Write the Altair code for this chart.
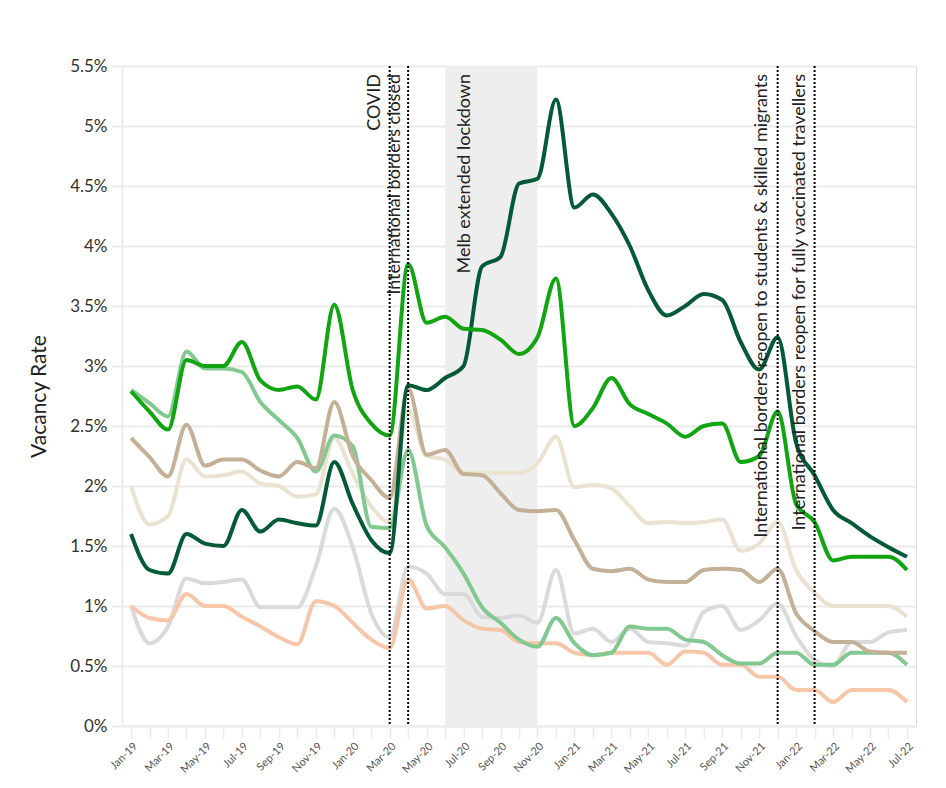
import altair as alt
import pandas as pd

years = ["19", "20", "21", "22"]
month_names = ["Jan", "Feb", "Mar", "Apr", "May", "Jun", "Jul", "Aug", "Sep", "Oct", "Nov", "Dec"]
months = [f"{m}-{y}" for y in years for m in month_names][:43]

series_names = ["Sydney", "Melbourne", "Brisbane", "Perth", "Adelaide", "Canberra", "National"]
series_colors = ["#11a511", "#035a36", "#c4b096", "#82c991", "#f7c6a8", "#dadada", "#ebe3d1"]

sydney = [2.79, 2.62, 2.47, 3.05, 3.0, 3.0, 3.2, 2.88, 2.8, 2.83, 2.72, 3.51, 2.8, 2.52, 2.42,
          3.85, 3.36, 3.41, 3.31, 3.3, 3.22, 3.1, 3.24, 3.73, 2.5, 2.65, 2.9, 2.68, 2.6, 2.52,
          2.41, 2.5, 2.52, 2.2, 2.25, 2.62, 1.85, 1.7, 1.38, 1.41, 1.41, 1.41, 1.3]
melbourne = [1.6, 1.3, 1.27, 1.6, 1.52, 1.5, 1.8, 1.62, 1.72, 1.69, 1.67, 2.2, 1.85, 1.55, 1.44,
             2.84, 2.8, 2.9, 3.0, 3.83, 3.91, 4.52, 4.56, 5.22, 4.32, 4.43, 4.27, 4.0, 3.63, 3.42,
             3.5, 3.6, 3.55, 3.2, 2.97, 3.24, 2.36, 2.09, 1.8, 1.69, 1.58, 1.49, 1.41]
brisbane = [2.4, 2.24, 2.08, 2.51, 2.17, 2.22, 2.22, 2.13, 2.08, 2.2, 2.15, 2.7, 2.25, 2.05, 1.9,
            2.81, 2.26, 2.3, 2.1, 2.09, 1.94, 1.8, 1.79, 1.8, 1.55, 1.31, 1.29, 1.31, 1.22, 1.2,
            1.2, 1.3, 1.31, 1.3, 1.2, 1.31, 0.94, 0.79, 0.7, 0.7, 0.62, 0.61, 0.61]
perth = [2.8, 2.69, 2.58, 3.12, 2.98, 2.98, 2.95, 2.7, 2.55, 2.4, 2.12, 2.42, 2.33, 1.66, 1.65,
         2.3, 1.67, 1.49, 1.27, 0.99, 0.86, 0.72, 0.66, 0.9, 0.69, 0.59, 0.61, 0.83, 0.81, 0.81,
         0.72, 0.7, 0.59, 0.52, 0.52, 0.61, 0.61, 0.51, 0.51, 0.61, 0.61, 0.61, 0.51]
adelaide = [1.0, 0.9, 0.88, 1.1, 1.0, 1.0, 0.91, 0.83, 0.74, 0.68, 1.04, 1.0, 0.86, 0.72, 0.65,
            1.22, 0.98, 1.0, 0.88, 0.81, 0.8, 0.7, 0.69, 0.69, 0.61, 0.59, 0.61, 0.61, 0.61, 0.51,
            0.62, 0.61, 0.51, 0.51, 0.41, 0.41, 0.3, 0.3, 0.2, 0.3, 0.3, 0.3, 0.2]
canberra = [1.0, 0.69, 0.83, 1.23, 1.19, 1.2, 1.22, 0.99, 0.99, 0.99, 1.33, 1.81, 1.49, 0.94, 0.74,
            1.33, 1.27, 1.1, 1.1, 0.91, 0.9, 0.92, 0.86, 1.3, 0.77, 0.81, 0.7, 0.81, 0.7, 0.69,
            0.67, 0.95, 1.0, 0.8, 0.88, 1.02, 0.75, 0.55, 0.5, 0.7, 0.7, 0.78, 0.8]
national = [2.0, 1.68, 1.75, 2.22, 2.08, 2.09, 2.12, 2.02, 2.0, 1.91, 1.93, 2.4, 2.1, 1.83, 1.7,
            2.63, 2.25, 2.22, 2.11, 2.11, 2.11, 2.11, 2.19, 2.41, 1.99, 2.01, 1.98, 1.83, 1.69, 1.7,
            1.69, 1.7, 1.72, 1.46, 1.52, 1.7, 1.3, 1.11, 1.0, 1.0, 1.0, 1.0, 0.91]

series_values = [sydney, melbourne, brisbane, perth, adelaide, canberra, national]

band_start = "Jun-20"
band_end = "Nov-20"

ann_months = ["Mar-20", "Apr-20", "Jun-20", "Dec-21", "Feb-22"]
ann_texts = ["COVID", "International borders closed", "Melb extended lockdown",
             "International borders reopen to students & skilled migrants",
             "International borders reopen for fully vaccinated travellers"]
ann_dy = [-10, -8, 25, -11, -10]
rule_months = ["Mar-20", "Apr-20", "Dec-21", "Feb-22"]

y_ticks = [0, 0.5, 1, 1.5, 2, 2.5, 3, 3.5, 4, 4.5, 5, 5.5]

rows = []
for name, vals in reversed(list(zip(series_names, series_values))):
    for m, v in zip(months, vals):
        rows.append({"month": m, "series": name, "city": name, "value": v})
df = pd.DataFrame(rows)

W, H = 794, 660
grid_c = "#ebebeb"

xscale = alt.Scale(type="point", domain=months, padding=0.49)
x_axis = alt.Axis(
    title=None, grid=False, domainColor=grid_c, domainWidth=2, tickColor=grid_c,
    tickSize=12, tickWidth=1.5, labelAngle=315, labelAlign="right", labelBaseline="top",
    labelFontSize=11, labelColor="#555", labelFont="Lato", labelPadding=2,
    labelExpr="indexof(['Jan','Mar','May','Jul','Sep','Nov'], slice(datum.label, 0, 3)) >= 0 ? datum.label : ''",
)
yscale = alt.Scale(domain=[0, 5.5], nice=False)
y_axis = alt.Axis(
    title="Vacancy Rate", values=y_ticks, labelExpr="datum.value + '%'",
    grid=True, gridColor=grid_c, gridWidth=2, domainColor=grid_c, domainWidth=2,
    tickColor=grid_c, tickSize=10, tickWidth=2, labelFontSize=17, labelColor="#333",
    labelFont="Lato", labelPadding=5, titleFont="Lato", titleFontSize=21,
    titleFontWeight="normal", titleColor="#222", titleX=-83, titleY=330,
    titleAngle=270, titleBaseline="middle", titleAlign="center",
)

sym_path = ("M-0.4,-1 L0.4,-1 Q0.65,-1 0.65,-0.75 L0.65,0.75 Q0.65,1 0.4,1 "
            "L-0.4,1 Q-0.65,1 -0.65,0.75 L-0.65,-0.75 Q-0.65,-1 -0.4,-1 Z")

legend = alt.Legend(
    orient="top", direction="horizontal", offset=25,
    title=None, symbolType=sym_path, symbolSize=441, symbolStrokeWidth=0,
    symbolOpacity=1, labelFontSize=20, labelFont="Lato", labelColor="#333",
    labelOffset=2, columnPadding=10, padding=0,
)

band = alt.Chart(pd.DataFrame({"start": [band_start], "end": [band_end]})).mark_rect(
    color="#eeeeee"
).encode(
    x=alt.X("start:O", scale=xscale, axis=x_axis),
    x2="end",
    y=alt.value(0),
    y2=alt.value(H),
)

lines = alt.Chart(df).mark_line(strokeWidth=4, interpolate="monotone").encode(
    x=alt.X("month:O", scale=xscale, axis=x_axis),
    y=alt.Y("value:Q", scale=yscale, axis=y_axis),
    stroke=alt.Stroke("series:N", scale=alt.Scale(domain=series_names, range=series_colors),
                      legend=None),
    detail="series:N",
)

legend_layer = alt.Chart(df).mark_point(filled=True, opacity=0, size=1).encode(
    x=alt.X("month:O", scale=xscale, axis=x_axis),
    y=alt.Y("value:Q", scale=yscale, axis=y_axis),
    color=alt.Color("city:N", scale=alt.Scale(domain=series_names, range=series_colors),
                    legend=legend),
)

rules = alt.Chart(pd.DataFrame({"month": rule_months})).mark_rule(
    color="#000", strokeWidth=2, strokeDash=[2, 2]
).encode(
    x=alt.X("month:O", scale=xscale, axis=x_axis),
    y=alt.value(0),
    y2=alt.value(H),
)

texts = []
for m, t, d in zip(ann_months, ann_texts, ann_dy):
    texts.append(
        alt.Chart(pd.DataFrame({"month": [m], "label": [t]})).mark_text(
            angle=270, align="right", baseline="alphabetic", dy=d,
            fontSize=18, font="Lato", color="#222",
        ).encode(
            x=alt.X("month:O", scale=xscale, axis=x_axis),
            y=alt.value(8),
            text="label:N",
        )
    )

chart = alt.layer(band, lines, legend_layer, rules, *texts).properties(
    width=W, height=H,
    autosize=alt.AutoSizeParams(type="none"),
    padding={"left": 114, "top": 58, "right": 22, "bottom": 54},
).configure_view(stroke=None).configure(font="Lato")

chart.save("out.html", embed_options={"renderer": "svg", "actions": False})
